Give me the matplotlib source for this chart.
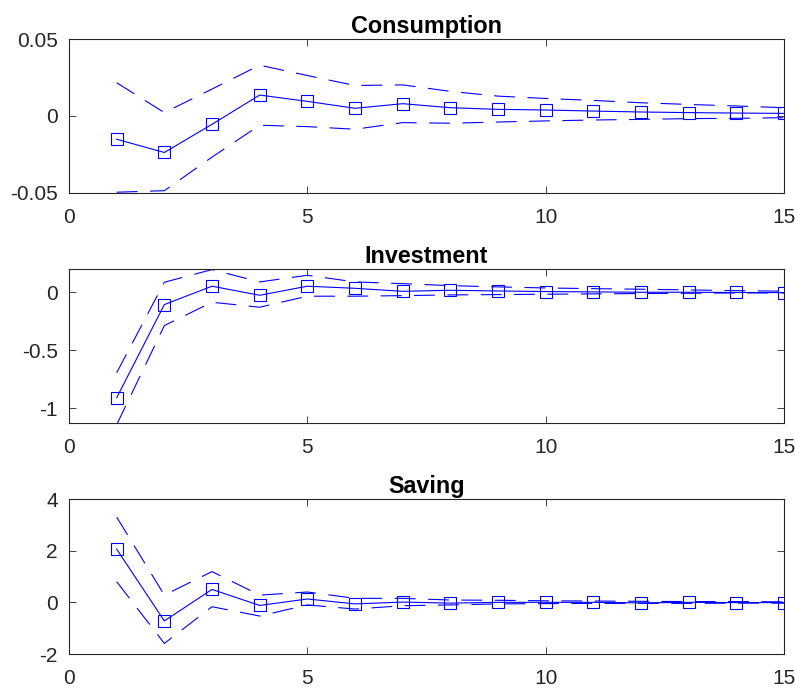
import matplotlib
matplotlib.use("Agg")
import matplotlib.pyplot as plt

# impulse responses, periods 1..15
periods = list(range(1, 16))

cons_mid = [-0.0151, -0.0237, -0.0054, 0.0136, 0.0095, 0.0050, 0.0080, 0.0054,
            0.0043, 0.0039, 0.0032, 0.0026, 0.0022, 0.0019, 0.0017]
cons_hi = [0.0216, 0.0022, 0.0175, 0.0330, 0.0263, 0.0198, 0.0202, 0.0160,
           0.0129, 0.0114, 0.0101, 0.0086, 0.0075, 0.0065, 0.0054]
cons_lo = [-0.0495, -0.0485, -0.0267, -0.0060, -0.0069, -0.0086, -0.0043, -0.0047,
           -0.0039, -0.0032, -0.0026, -0.0022, -0.0017, -0.0015, -0.0011]

inv_mid = [-0.908, -0.106, 0.052, -0.026, 0.052, 0.034, 0.008, 0.017,
           0.011, 0.006, 0.003, 0.000, 0.000, -0.002, -0.003]
inv_hi = [-0.693, 0.086, 0.195, 0.089, 0.146, 0.089, 0.074, 0.057,
          0.046, 0.037, 0.031, 0.026, 0.020, 0.014, 0.009]
inv_lo = [-1.14, -0.287, -0.086, -0.129, -0.034, -0.034, -0.029, -0.023,
          -0.020, -0.017, -0.014, -0.011, -0.009, -0.006, -0.006]

sav_mid = [2.06, -0.72, 0.50, -0.12, 0.13, -0.06, 0.01, -0.03,
           0.00, 0.00, 0.00, -0.02, 0.00, -0.01, -0.01]
sav_hi = [3.30, 0.28, 1.19, 0.28, 0.40, 0.155, 0.155, 0.09,
          0.08, 0.06, 0.05, 0.04, 0.03, 0.03, 0.02]
sav_lo = [0.80, -1.59, -0.17, -0.53, -0.10, -0.26, -0.13, -0.10,
          -0.06, -0.05, -0.04, -0.04, -0.04, -0.03, -0.03]

titles = ["Consumption", "Investment", "Saving"]
ylims = [(-0.05, 0.05), (-1.125, 0.2), (-2, 4)]
yticks = [[-0.05, 0, 0.05], [-1, -0.5, 0], [-2, 0, 2, 4]]
ylabels = [["-0.05", "0", "0.05"], ["-1", "-0.5", "0"], ["-2", "0", "2", "4"]]
xticks = [0, 5, 10, 15]

plt.rcParams["font.family"] = ["Liberation Sans", "DejaVu Sans"]
plt.rcParams["lines.scale_dashes"] = False

fig = plt.figure(figsize=(7.95, 6.88), dpi=100)
edge = (0.15, 0.15, 0.15)

# axes boxes [left, bottom, width, height]
boxes = [[0.0868, 0.7195, 0.8994, 0.2238],
         [0.0868, 0.3852, 0.8994, 0.2238],
         [0.0868, 0.0494, 0.8994, 0.2253]]

data = [(cons_mid, cons_hi, cons_lo), (inv_mid, inv_hi, inv_lo), (sav_mid, sav_hi, sav_lo)]

for i in range(3):
    ax = fig.add_axes(boxes[i])
    mid, hi, lo = data[i]
    ax.plot(periods, mid, color="blue", lw=0.8, marker="s", ms=8,
            mfc="none", mec="blue", mew=0.8)
    ax.plot(periods, hi, color="blue", lw=0.8, dashes=(15, 9))
    ax.plot(periods, lo, color="blue", lw=0.8, dashes=(15, 9))
    ax.set_xlim(0, 15)
    ax.set_ylim(*ylims[i])
    ax.set_xticks(xticks)
    ax.set_xticklabels([str(t) for t in xticks])
    ax.set_yticks(yticks[i])
    ax.set_yticklabels(ylabels[i])
    ax.tick_params(direction="in", length=5, width=0.6, colors=edge,
                   labelsize=15, top=True, right=True)
    ax.tick_params(axis="x", pad=11)
    ax.tick_params(axis="y", pad=8)
    for s in ax.spines.values():
        s.set_color(edge)
        s.set_linewidth(0.8)
    ax.set_title(titles[i], fontsize=16.8, fontweight="bold", pad=4)

fig.savefig("out.png", dpi=100)
